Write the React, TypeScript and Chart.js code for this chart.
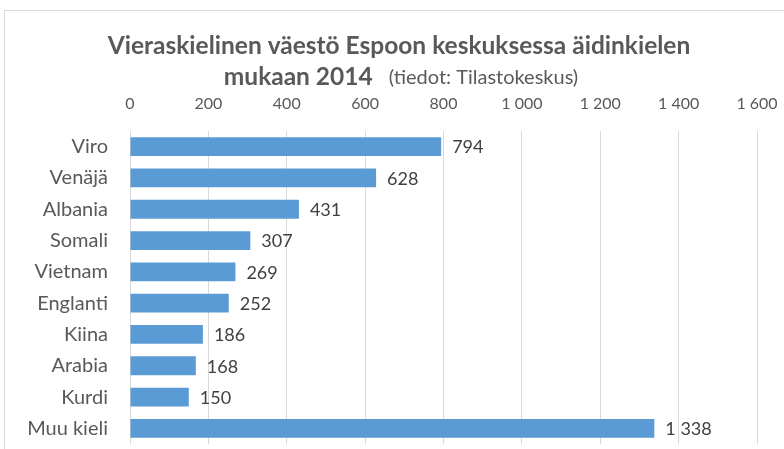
import React, { useEffect, useRef } from "react";
import { Chart, registerables } from "chart.js";

Chart.register(...registerables);

const categories = ["Viro", "Venäjä", "Albania", "Somali", "Vietnam", "Englanti", "Kiina", "Arabia", "Kurdi", "Muu kieli"];
const values = [794, 628, 431, 307, 269, 252, 186, 168, 150, 1338];
const xMin = 0;
const xMax = 1600;
const xStep = 200;
const titleLine1 = "Vieraskielinen väestö Espoon keskuksessa äidinkielen";
const titleLine2Bold = "mukaan 2014";
const titleLine2Normal = "(tiedot: Tilastokeskus)";

const FONT = "Lato, 'Open Sans', sans-serif";
const TEXT = "#595959";

const fmt = (v: number) => {
  if (v >= 1000) {
    const t = Math.floor(v / 1000);
    const r = String(Math.round(v % 1000)).padStart(3, "0");
    return `${t} ${r}`;
  }
  return String(v);
};

const decorPlugin = {
  id: "decor",
  beforeDraw(chart: any) {
    const ctx = chart.ctx;
    ctx.save();
    ctx.strokeStyle = "#d9d9d9";
    ctx.lineWidth = 1;
    ctx.strokeRect(4.5, 10.5, 900, 600);
    ctx.restore();
  },
  afterDraw(chart: any) {
    const ctx = chart.ctx;
    ctx.save();
    ctx.fillStyle = TEXT;
    ctx.textBaseline = "middle";
    ctx.textAlign = "center";
    const boldFont = `bold 24.5px ${FONT}`;
    const normFont = `20px ${FONT}`;
    ctx.font = boldFont;
    ctx.fillText(titleLine1, 399, 46);
    ctx.textAlign = "left";
    ctx.font = boldFont;
    const wb = ctx.measureText(titleLine2Bold).width;
    ctx.font = normFont;
    const wn = ctx.measureText(titleLine2Normal).width;
    const gap = 16;
    const total = wb + gap + wn;
    const start = 401 - total / 2;
    ctx.font = boldFont;
    ctx.fillText(titleLine2Bold, start, 77);
    ctx.font = normFont;
    ctx.fillText(titleLine2Normal, start + wb + gap, 78);
    ctx.restore();
  },
  afterDatasetsDraw(chart: any) {
    const ctx = chart.ctx;
    const meta = chart.getDatasetMeta(0);
    ctx.save();
    ctx.fillStyle = "#404040";
    ctx.font = `18px ${FONT}`;
    ctx.textAlign = "left";
    ctx.textBaseline = "middle";
    meta.data.forEach((bar: any, i: number) => {
      ctx.fillText(fmt(values[i]), bar.x + 11, bar.y + 1);
    });
    ctx.restore();
  },
};

export default function App() {
  const ref = useRef<HTMLCanvasElement>(null);
  useEffect(() => {
    if (!ref.current) return;
    const chart = new Chart(ref.current, {
      type: "bar",
      data: {
        labels: categories,
        datasets: [
          {
            data: values,
            backgroundColor: "#5b9bd5",
            borderWidth: 0,
            barPercentage: 0.6,
            categoryPercentage: 1,
          },
        ],
      },
      options: {
        indexAxis: "y",
        animation: false,
        responsive: false,
        layout: { padding: { left: 0, top: 0, right: 27, bottom: 5 } },
        plugins: {
          legend: { display: false },
          title: { display: false },
          tooltip: { enabled: false },
        },
        scales: {
          x: {
            type: "linear",
            position: "top",
            min: xMin,
            max: xMax,
            ticks: {
              stepSize: xStep,
              callback: (v: any) => fmt(Number(v)),
              color: TEXT,
              font: { family: FONT, size: 16 },
              padding: 18,
              maxRotation: 0,
            },
            grid: { color: "#d9d9d9", drawTicks: false },
            border: { display: false },
            afterFit: (s: any) => {
              s.height = 131;
              s.paddingLeft = 0;
              s.paddingRight = 0;
            },
          },
          y: {
            type: "category",
            ticks: {
              color: TEXT,
              font: { family: FONT, size: 20 },
              padding: 22,
            },
            grid: { display: false, drawTicks: false },
            border: { display: false },
            afterFit: (s: any) => {
              s.width = 130;
              s.paddingTop = 0;
              s.paddingBottom = 0;
            },
          },
        },
      },
      plugins: [decorPlugin],
    });
    return () => chart.destroy();
  }, []);
  return (
    <div style={{ position: "absolute", left: 0, top: 0, width: 784, height: 449, background: "#fff" }}>
      <canvas ref={ref} width={784} height={449} />
    </div>
  );
}
